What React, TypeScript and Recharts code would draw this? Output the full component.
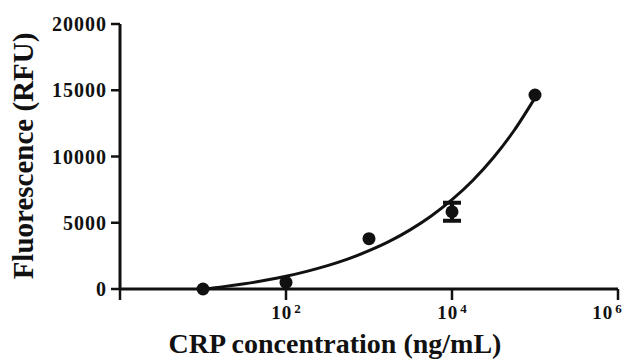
import { ComposedChart, XAxis, YAxis, Scatter, Line, ErrorBar } from 'recharts';

// measured points (ng/mL vs RFU)
const concentrations = [10, 100, 1000, 100000];
const fluorescence = [0, 500, 3800, 14640];

// point with error bar
const errConcentration = 10000;
const errFluorescence = 5830;
const errSize = 680;

// fitted curve (log10 of concentration)
const fitLogX = [1, 1.25, 1.5, 1.75, 2, 2.25, 2.5, 2.75, 3, 3.25, 3.5, 3.75, 4, 4.25, 4.5, 4.75, 5];
const fitY = [0, 180, 400, 655, 960, 1330, 1760, 2270, 2890, 3610, 4480, 5510, 6740, 8190, 9920, 11980, 14430];

const xTicks = [1, 100, 10000, 1000000];
const yTicks = [0, 5000, 10000, 15000, 20000];

const INK = '#111';
const FONT = '"Liberation Serif", "Times New Roman", serif';

const pointData = concentrations.map((x, i) => ({ x, y: fluorescence[i] }));
const errData = [{ x: errConcentration, y: errFluorescence, err: errSize }];
const fitData = fitLogX.map((lx, i) => ({ x: Math.pow(10, lx), y: fitY[i] }));

const Dot = (props: any) => <circle cx={props.cx} cy={props.cy} r={6.5} fill={INK} />;

const XTick = ({ x, y, payload }: any) => {
  const exp = Math.round(Math.log10(payload.value));
  if (exp === 0) return null;
  return (
    <text x={x} y={y + 17} textAnchor="middle" fontFamily={FONT} fontWeight="bold" fill={INK}>
      <tspan fontSize={19} letterSpacing={1}>10</tspan>
      <tspan fontSize={13} dx={2} dy={-6}>{exp}</tspan>
    </text>
  );
};

const YTick = ({ x, y, payload }: any) => (
  <text x={x} y={y + 7} textAnchor="end" fontFamily={FONT} fontWeight="bold" fontSize={20} letterSpacing={1} fill={INK}>
    {payload.value}
  </text>
);

export default function App() {
  return (
    <div style={{ position: 'absolute', left: 0, top: 0, width: 635, height: 360, background: '#fff' }}>
      <ComposedChart width={635} height={360} margin={{ top: 24, right: 17, left: 0, bottom: 0 }}>
        <XAxis
          dataKey="x"
          type="number"
          scale="log"
          domain={[1, 1000000]}
          ticks={xTicks}
          allowDataOverflow
          height={71}
          tickSize={11}
          tickMargin={2}
          axisLine={{ stroke: INK, strokeWidth: 3 }}
          tickLine={{ stroke: INK, strokeWidth: 2.5 }}
          tick={<XTick />}
        />
        <YAxis
          dataKey="y"
          type="number"
          domain={[0, 20000]}
          ticks={yTicks}
          width={120}
          tickSize={9}
          tickMargin={4}
          axisLine={{ stroke: INK, strokeWidth: 3 }}
          tickLine={{ stroke: INK, strokeWidth: 2.5 }}
          tick={<YTick />}
        />
        <Line data={fitData} dataKey="y" type="monotone" stroke={INK} strokeWidth={3} dot={false} isAnimationActive={false} />
        <Scatter data={pointData} dataKey="y" shape={<Dot />} isAnimationActive={false} />
        <Scatter data={errData} dataKey="y" shape={<Dot />} isAnimationActive={false}>
          <ErrorBar dataKey="err" direction="y" width={9} stroke={INK} strokeWidth={4} isAnimationActive={false} />
        </Scatter>
        <text x={0} y={0} transform="translate(33,156) rotate(-90)" textAnchor="middle" fontFamily={FONT} fontWeight="bold" fontSize={29} fill={INK}>
          Fluorescence (RFU)
        </text>
        <text x={335} y={353} textAnchor="middle" fontFamily={FONT} fontWeight="bold" fontSize={28} fill={INK}>
          CRP concentration (ng/mL)
        </text>
      </ComposedChart>
    </div>
  );
}
